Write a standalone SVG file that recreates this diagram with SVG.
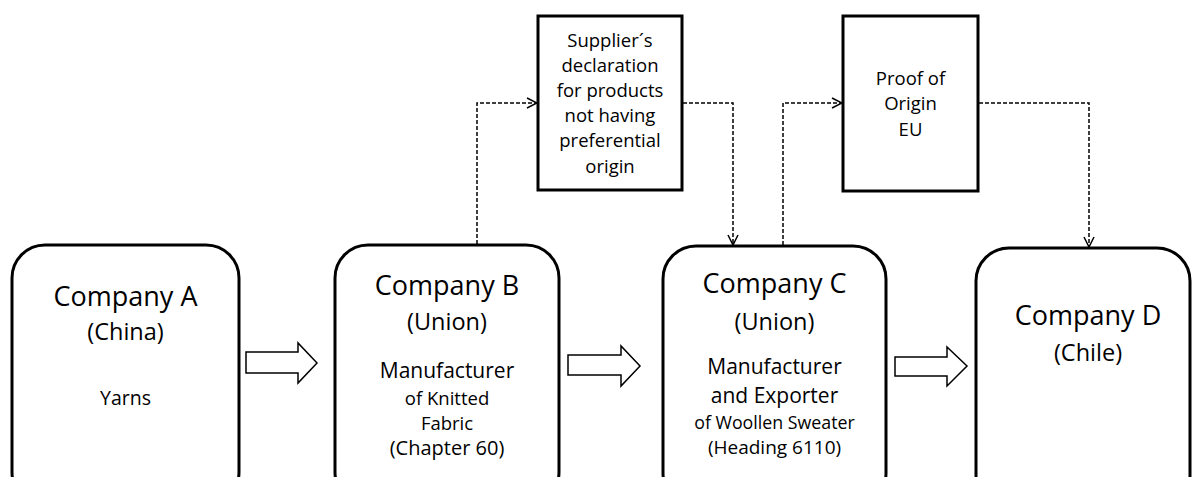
<svg xmlns="http://www.w3.org/2000/svg" width="1192" height="477" viewBox="0 0 1192 477">
<style>
.node{fill:#fff;stroke:#000;stroke-width:3}
.doc{fill:#fff;stroke:#000;stroke-width:3}
.dash{fill:none;stroke:#000;stroke-width:1.5;stroke-dasharray:4 2}
.blk{fill:#fff;stroke:#000;stroke-width:1.5;stroke-linejoin:miter}
text{font-family:"Open Sans","Liberation Sans",sans-serif;fill:#000;text-anchor:middle}
.t1{font-size:27px}
.t2{font-size:23.5px}
.t3{font-size:21px}
.t4{font-size:18.5px}
</style>
<defs>
<marker id="ah" viewBox="0 0 12 12" refX="11" refY="6" markerWidth="12" markerHeight="12" markerUnits="userSpaceOnUse" orient="auto">
<path d="M1,1 L11,6 L1,11" fill="none" stroke="#000" stroke-width="1.5"/>
</marker>
</defs>
<rect width="1192" height="477" fill="#fff"/>
<g id="companyA">
<rect class="node" x="12" y="245" width="227" height="260" rx="33" ry="33"/>
<text class="t1" x="125.5" y="306">Company A</text>
<text class="t2" x="125.5" y="340">(China)</text>
<text class="t4" x="125.5" y="405" style="font-size:19.5px">Yarns</text>
</g>
<g id="companyB">
<rect class="node" x="335" y="245" width="224" height="260" rx="33" ry="33"/>
<text class="t1" x="447" y="295">Company B</text>
<text class="t2" x="447" y="330">(Union)</text>
<text class="t3" x="447" y="378">Manufacturer</text>
<text class="t4" x="447" y="405">of Knitted</text>
<text class="t4" x="447" y="430">Fabric</text>
<text class="t4" x="447" y="455" style="font-size:20px">(Chapter 60)</text>
</g>
<g id="companyC">
<rect class="node" x="663" y="246" width="223" height="260" rx="33" ry="33"/>
<text class="t1" x="774.5" y="293">Company C</text>
<text class="t2" x="774.5" y="330">(Union)</text>
<text class="t3" x="774.5" y="374">Manufacturer</text>
<text class="t3" x="774.5" y="403">and Exporter</text>
<text class="t4" x="774.5" y="429" style="font-size:17.8px">of Woollen Sweater</text>
<text class="t4" x="774.5" y="454" style="font-size:19px">(Heading 6110)</text>
</g>
<g id="companyD">
<rect class="node" x="976" y="248" width="214" height="260" rx="33" ry="33"/>
<text class="t1" x="1088" y="325">Company D</text>
<text class="t2" x="1088" y="361">(Chile)</text>
</g>
<g id="supplierDeclaration">
<rect class="doc" x="538" y="16" width="144" height="174"/>
<text class="t4" x="610" y="47">Supplier´s</text>
<text class="t4" x="610" y="72">declaration</text>
<text class="t4" x="610" y="97">for products</text>
<text class="t4" x="610" y="122">not having</text>
<text class="t4" x="610" y="147">preferential</text>
<text class="t4" x="610" y="173">origin</text>
</g>
<g id="proofOfOrigin">
<rect class="doc" x="843" y="16" width="135" height="175"/>
<text class="t4" x="910.5" y="85">Proof of</text>
<text class="t4" x="910.5" y="110">Origin</text>
<text class="t4" x="910.5" y="136">EU</text>
</g>
<g id="connectors">
<path class="dash" d="M477,244 V103 H537" marker-end="url(#ah)"/>
<path class="dash" d="M683,103 H733 V245" marker-end="url(#ah)"/>
<path class="dash" d="M783,245 V103 H842" marker-end="url(#ah)"/>
<path class="dash" d="M979,103 H1089 V247" marker-end="url(#ah)"/>
<path class="blk" d="M246,352 H298 V343 L317,363 L298,383 V373 H246 Z"/>
<path class="blk" d="M568,355 H621 V346 L640,366 L621,386 V375 H568 Z"/>
<path class="blk" d="M895,357 H947 V347 L967,366 L947,386 V376 H895 Z"/>
</g>
</svg>
